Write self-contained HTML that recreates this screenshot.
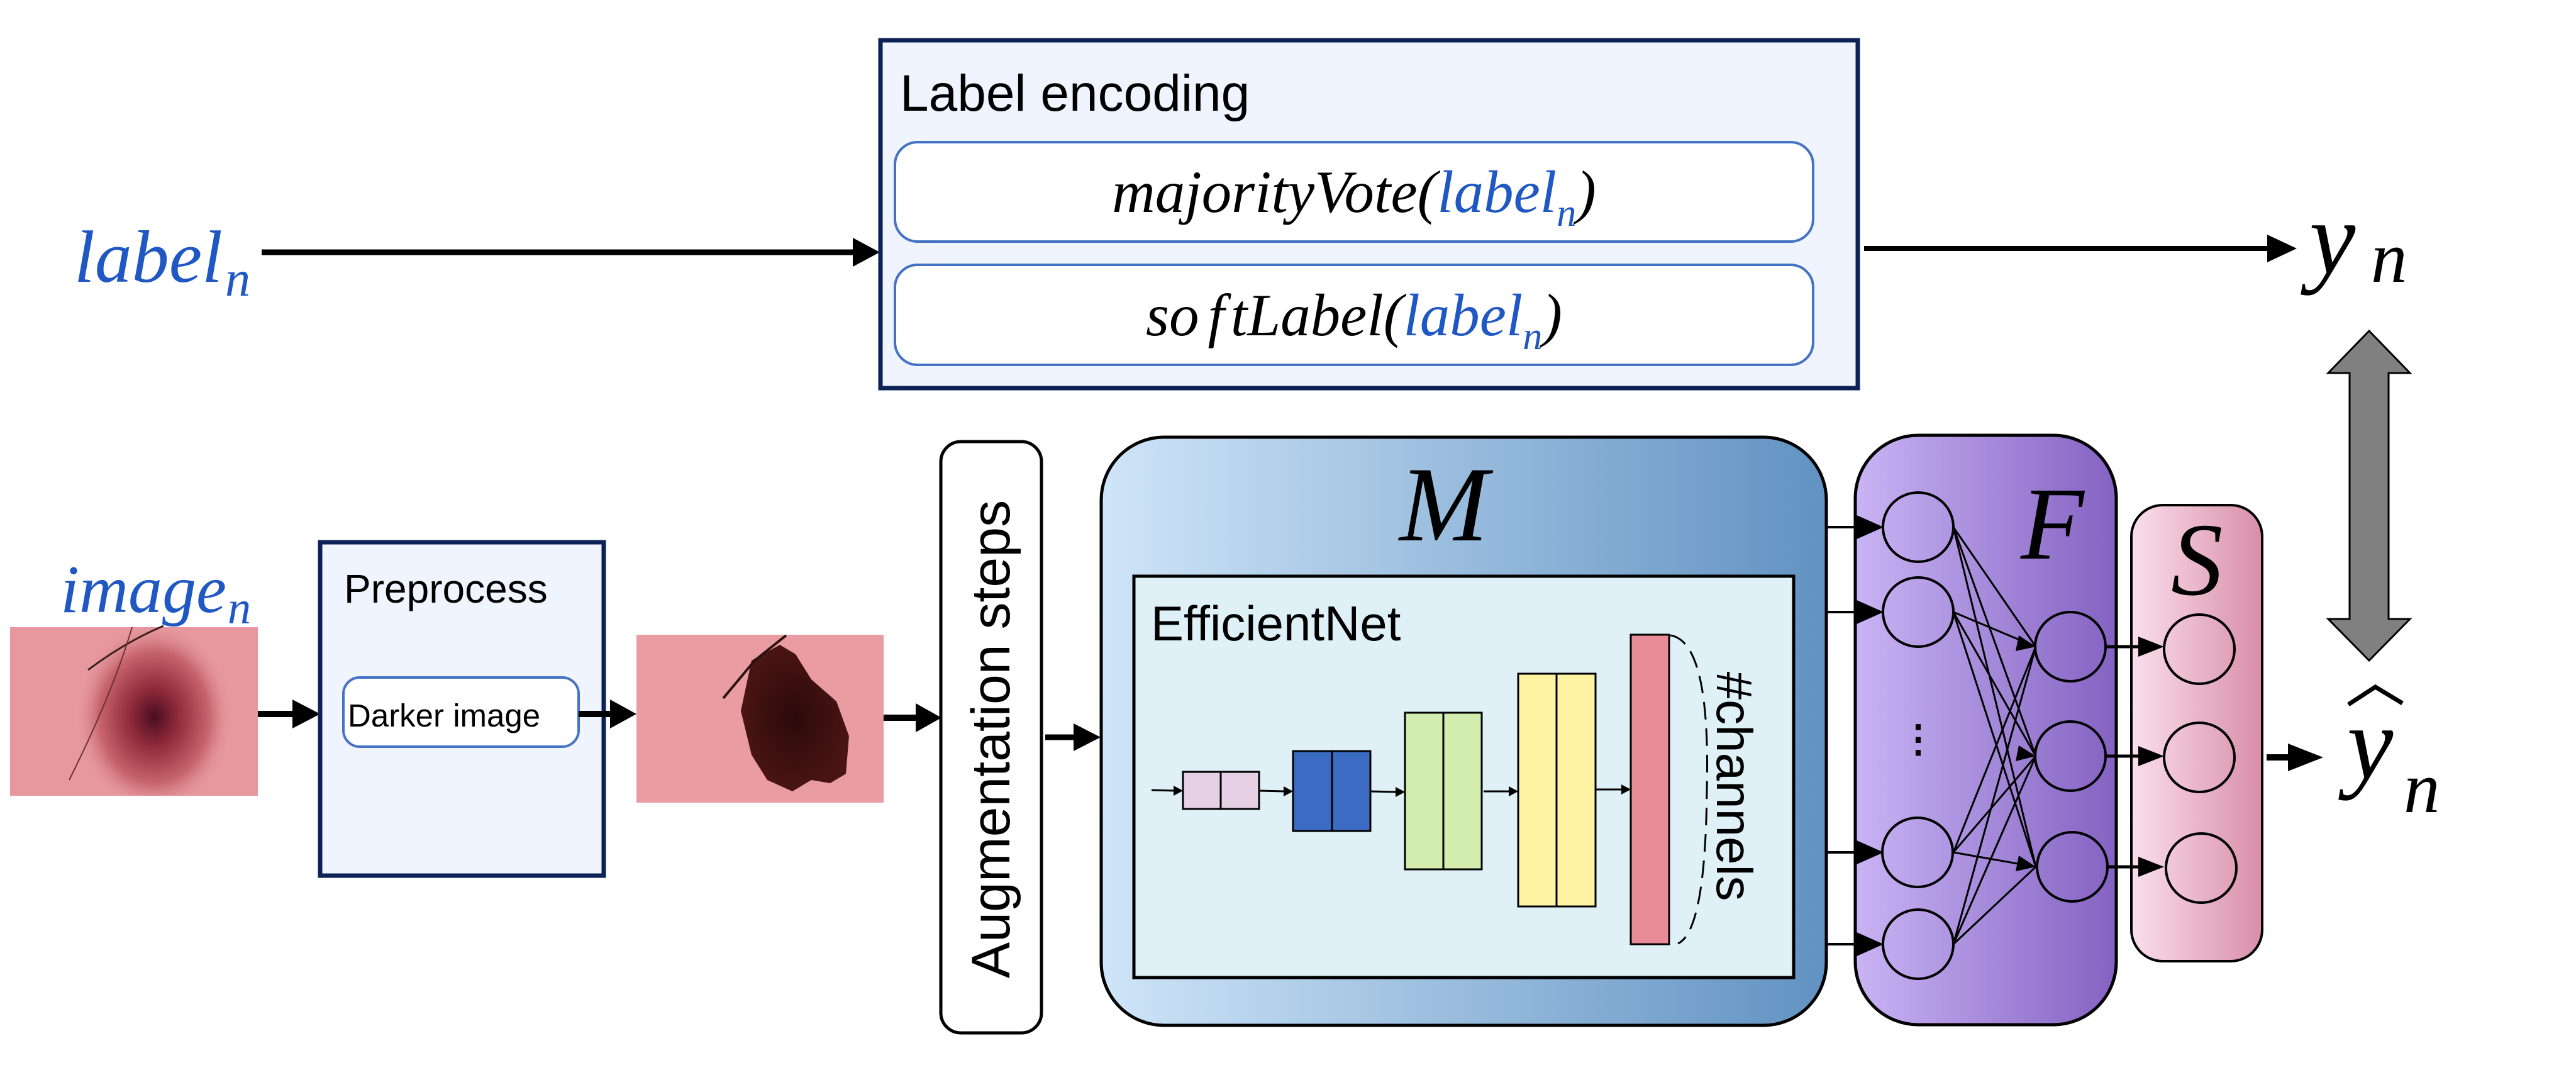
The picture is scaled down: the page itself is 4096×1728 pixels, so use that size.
<!DOCTYPE html>
<html><head><meta charset="utf-8"><style>
html,body{margin:0;padding:0;background:#fff;}
svg{display:block;}
</style></head><body>
<svg width="4096" height="1728" viewBox="0 0 4096 1728" xmlns="http://www.w3.org/2000/svg">
<defs>
<linearGradient id="gM" x1="0" x2="1" y1="0" y2="0"><stop offset="0" stop-color="#cfe5f8"/><stop offset="1" stop-color="#6192c2"/></linearGradient>
<linearGradient id="gF" x1="0" x2="1" y1="0" y2="0"><stop offset="0" stop-color="#c9b4f4"/><stop offset="1" stop-color="#8462c2"/></linearGradient>
<linearGradient id="gS" x1="0" x2="1" y1="0" y2="0"><stop offset="0" stop-color="#fadfec"/><stop offset="1" stop-color="#d98ea8"/></linearGradient>
<radialGradient id="sk1" cx="0.5" cy="0.5" r="0.5"><stop offset="0" stop-color="#4a0d20"/><stop offset="0.3" stop-color="#8e2a3a"/><stop offset="0.7" stop-color="#c7646c"/><stop offset="1" stop-color="#e4979c" stop-opacity="0"/></radialGradient>
<radialGradient id="sk2" cx="0.5" cy="0.5" r="0.5"><stop offset="0" stop-color="#2c0a0a"/><stop offset="1" stop-color="#4a1414"/></radialGradient>
<clipPath id="c1"><rect x="16" y="997" width="394" height="268"/></clipPath>
</defs>

<!-- label_n -->
<text x="118" y="448" font-family="Liberation Serif, serif" font-style="italic" font-size="118" fill="#1f57c3">label<tspan font-size="80" dx="4" dy="22">n</tspan></text>
<line x1="416" y1="401" x2="1360" y2="401" stroke="#000" stroke-width="9"/>
<polygon points="1356,378 1399,401 1356,424" fill="#000"/>

<!-- Label encoding -->
<rect x="1400" y="64" width="1554" height="553" fill="#eff4fe" stroke="#0c2257" stroke-width="7"/>
<text x="1431" y="176" font-family="Liberation Sans, sans-serif" font-size="82" fill="#000">Label encoding</text>
<rect x="1423" y="226" width="1460" height="158" rx="36" fill="#fff" stroke="#4472c4" stroke-width="4"/>
<rect x="1423" y="421" width="1460" height="159" rx="36" fill="#fff" stroke="#4472c4" stroke-width="4"/>
<text x="2153" y="337" text-anchor="middle" font-family="Liberation Serif, serif" font-style="italic" font-size="95" fill="#000">majorityVote(<tspan fill="#1f57c3">label<tspan font-size="62" dy="22">n</tspan></tspan><tspan dy="-22">)</tspan></text>
<text x="2153" y="533" text-anchor="middle" font-family="Liberation Serif, serif" font-style="italic" font-size="95" fill="#000">so<tspan dx="14">f</tspan><tspan dx="10">tLabel(</tspan><tspan fill="#1f57c3">label<tspan font-size="62" dy="22">n</tspan></tspan><tspan dy="-22">)</tspan></text>

<line x1="2964" y1="395" x2="3615" y2="395" stroke="#000" stroke-width="8"/>
<polygon points="3605,373 3652,395 3605,417" fill="#000"/>
<text x="3672" y="434" font-family="Liberation Serif, serif" font-style="italic" font-size="165" fill="#000">y</text>
<text x="3770" y="448" font-family="Liberation Serif, serif" font-style="italic" font-size="115" fill="#000">n</text>

<!-- double arrow -->
<polygon points="3767,526 3832,593 3798,593 3798,984 3832,984 3767,1050 3702,984 3736,984 3736,593 3702,593" fill="#808080" stroke="#000" stroke-width="3"/>

<!-- y hat -->
<text x="3732" y="1237" font-family="Liberation Serif, serif" font-style="italic" font-size="165" fill="#000">y</text>
<text x="3822" y="1291" font-family="Liberation Serif, serif" font-style="italic" font-size="115" fill="#000">n</text>
<polyline points="3734,1120 3777,1092 3820,1118" fill="none" stroke="#000" stroke-width="7"/>

<!-- image_n -->
<text x="96" y="973" font-family="Liberation Serif, serif" font-style="italic" font-size="108" fill="#1f57c3">image<tspan font-size="74" dx="2" dy="18">n</tspan></text>

<!-- skin image 1 -->
<rect x="16" y="997" width="394" height="268" fill="#e6989e"/>
<g clip-path="url(#c1)">
<ellipse cx="245" cy="1140" rx="125" ry="150" fill="url(#sk1)"/>
</g>
<path d="M140 1065 Q200 1020 260 995" stroke="#3b2020" stroke-width="3" fill="none"/>
<path d="M210 997 Q180 1100 110 1240" stroke="#6b3030" stroke-width="2" fill="none"/>

<line x1="410" y1="1135" x2="470" y2="1135" stroke="#000" stroke-width="10"/>
<polygon points="465,1112 509,1135 465,1158" fill="#000"/>

<!-- Preprocess -->
<rect x="509" y="862" width="451" height="530" fill="#eff4fe" stroke="#0c2257" stroke-width="7"/>
<text x="547" y="958" font-family="Liberation Sans, sans-serif" font-size="64" fill="#000">Preprocess</text>
<rect x="546" y="1077" width="374" height="110" rx="26" fill="#fff" stroke="#4472c4" stroke-width="4"/>
<text x="553" y="1155" font-family="Liberation Sans, sans-serif" font-size="51" fill="#000">Darker image</text>
<line x1="920" y1="1135" x2="975" y2="1135" stroke="#000" stroke-width="10"/>
<polygon points="970,1112 1012,1135 970,1158" fill="#000"/>

<!-- skin image 2 -->
<rect x="1012" y="1009" width="393" height="267" fill="#e99ca2"/>
<path d="M1195 1050 L1240 1025 L1265 1040 L1290 1080 L1330 1115 L1350 1170 L1345 1230 L1320 1245 L1290 1240 L1260 1258 L1220 1240 L1195 1200 L1178 1130 Z" fill="url(#sk2)"/>
<path d="M1150 1110 L1200 1050 L1250 1010" stroke="#2a1010" stroke-width="4" fill="none"/>

<line x1="1405" y1="1141" x2="1460" y2="1141" stroke="#000" stroke-width="10"/>
<polygon points="1456,1118 1497,1141 1456,1164" fill="#000"/>

<!-- Augmentation -->
<rect x="1496" y="702" width="160" height="940" rx="32" fill="#fff" stroke="#000" stroke-width="5"/>
<text transform="translate(1605,1175) rotate(-90)" text-anchor="middle" font-family="Liberation Sans, sans-serif" font-size="86" fill="#000">Augmentation steps</text>
<line x1="1662" y1="1172" x2="1715" y2="1172" stroke="#000" stroke-width="9"/>
<polygon points="1707,1150 1750,1172 1707,1194" fill="#000"/>

<!-- M -->
<rect x="1751" y="695" width="1153" height="935" rx="100" fill="url(#gM)" stroke="#000" stroke-width="5"/>
<text x="2225" y="859" font-family="Liberation Serif, serif" font-style="italic" font-size="170" fill="#000">M</text>
<rect x="1803" y="916" width="1049" height="638" fill="#dff1f7" stroke="#000" stroke-width="5"/>
<text x="1830" y="1018" font-family="Liberation Sans, sans-serif" font-size="78" fill="#000">EfficientNet</text>
<g stroke="#000" stroke-width="3">
<rect x="1881" y="1227" width="121" height="59" fill="#e5d0e5"/><line x1="1941" y1="1227" x2="1941" y2="1286"/>
<rect x="2056" y="1194" width="123" height="127" fill="#3b6bc2"/><line x1="2118" y1="1194" x2="2118" y2="1321"/>
<rect x="2234" y="1133" width="122" height="249" fill="#d2edae"/><line x1="2295" y1="1133" x2="2295" y2="1382"/>
<rect x="2414" y="1071" width="123" height="370" fill="#fef3a3"/><line x1="2475" y1="1071" x2="2475" y2="1441"/>
<rect x="2593" y="1009" width="61" height="492" fill="#e88c98"/>
</g>
<g stroke="#000" stroke-width="3">
<line x1="1831" y1="1256" x2="1868" y2="1257"/>
<line x1="2002" y1="1257" x2="2043" y2="1258"/>
<line x1="2179" y1="1258" x2="2221" y2="1259"/>
<line x1="2359" y1="1258" x2="2401" y2="1258"/>
<line x1="2537" y1="1255" x2="2580" y2="1255"/>
</g>
<g fill="#000">
<polygon points="1866,1249 1881,1257 1866,1265"/>
<polygon points="2041,1250 2056,1258 2041,1266"/>
<polygon points="2219,1251 2234,1259 2219,1267"/>
<polygon points="2399,1250 2414,1258 2399,1266"/>
<polygon points="2578,1247 2593,1255 2578,1263"/>
</g>
<path d="M2656 1010 Q2720 1020 2714 1255 Q2712 1480 2668 1500" fill="none" stroke="#000" stroke-width="3" stroke-dasharray="28,14"/>
<text transform="translate(2730,1250) rotate(90)" text-anchor="middle" font-family="Liberation Sans, sans-serif" font-size="80" fill="#000">#channels</text>

<!-- F -->
<rect x="2950" y="692" width="415" height="937" rx="100" fill="url(#gF)" stroke="#000" stroke-width="5"/>
<text x="3213" y="888" font-family="Liberation Serif, serif" font-style="italic" font-size="165" fill="#000">F</text>
<text x="3050" y="1195" text-anchor="middle" font-family="Liberation Sans, sans-serif" font-size="60" font-weight="bold" fill="#000">⋮</text>
<g stroke="#000" stroke-width="4">
<line x1="2905" y1="838" x2="2960" y2="838"/>
<line x1="2905" y1="973" x2="2960" y2="973"/>
<line x1="2905" y1="1355" x2="2960" y2="1355"/>
<line x1="2905" y1="1501" x2="2960" y2="1501"/>
</g>
<g fill="#000">
<polygon points="2950,818 2995,838 2950,858"/>
<polygon points="2950,953 2995,973 2950,993"/>
<polygon points="2950,1335 2995,1355 2950,1375"/>
<polygon points="2950,1481 2995,1501 2950,1521"/>
</g>
<g stroke="#000" stroke-width="3">
<line x1="3106" y1="838" x2="3237" y2="1028"/><line x1="3106" y1="838" x2="3237" y2="1202"/><line x1="3106" y1="838" x2="3237" y2="1378"/>
<line x1="3106" y1="973" x2="3237" y2="1028"/><line x1="3106" y1="973" x2="3237" y2="1202"/><line x1="3106" y1="973" x2="3237" y2="1378"/>
<line x1="3106" y1="1355" x2="3237" y2="1028"/><line x1="3106" y1="1355" x2="3237" y2="1202"/><line x1="3106" y1="1355" x2="3237" y2="1378"/>
<line x1="3106" y1="1501" x2="3237" y2="1028"/><line x1="3106" y1="1501" x2="3237" y2="1202"/><line x1="3106" y1="1501" x2="3237" y2="1378"/>
</g>
<g fill="#000">
<polygon points="3210,1010 3237,1028 3205,1035"/>
<polygon points="3210,1185 3237,1202 3205,1210"/>
<polygon points="3210,1360 3237,1378 3205,1385"/>
</g>
<g fill="none" stroke="#000" stroke-width="4">
<ellipse cx="3050" cy="838" rx="56" ry="55"/>
<ellipse cx="3050" cy="973" rx="56" ry="55"/>
<ellipse cx="3049" cy="1355" rx="56" ry="55"/>
<ellipse cx="3050" cy="1501" rx="56" ry="55"/>
<ellipse cx="3292" cy="1028" rx="56" ry="55"/>
<ellipse cx="3292" cy="1202" rx="56" ry="55"/>
<ellipse cx="3295" cy="1378" rx="56" ry="55"/>
</g>
<!-- S -->
<rect x="3389" y="803" width="208" height="725" rx="50" fill="url(#gS)" stroke="#000" stroke-width="4"/>
<text x="3452" y="945" font-family="Liberation Serif, serif" font-style="italic" font-size="165" fill="#000">S</text>
<g stroke="#000" stroke-width="5">
<line x1="3348" y1="1028" x2="3410" y2="1028"/>
<line x1="3348" y1="1202" x2="3410" y2="1202"/>
<line x1="3351" y1="1378" x2="3410" y2="1378"/>
</g>
<g fill="#000">
<polygon points="3400,1012 3441,1028 3400,1044"/>
<polygon points="3400,1186 3441,1202 3400,1218"/>
<polygon points="3400,1362 3441,1378 3400,1394"/>
</g>
<g fill="none" stroke="#000" stroke-width="4">
<ellipse cx="3497" cy="1032" rx="56" ry="55"/>
<ellipse cx="3497" cy="1204" rx="56" ry="55"/>
<ellipse cx="3500" cy="1380" rx="56" ry="55"/>
</g>
<line x1="3604" y1="1204" x2="3660" y2="1204" stroke="#000" stroke-width="10"/>
<polygon points="3638,1182 3694,1204 3638,1226" fill="#000"/>
</svg>
</body></html>
